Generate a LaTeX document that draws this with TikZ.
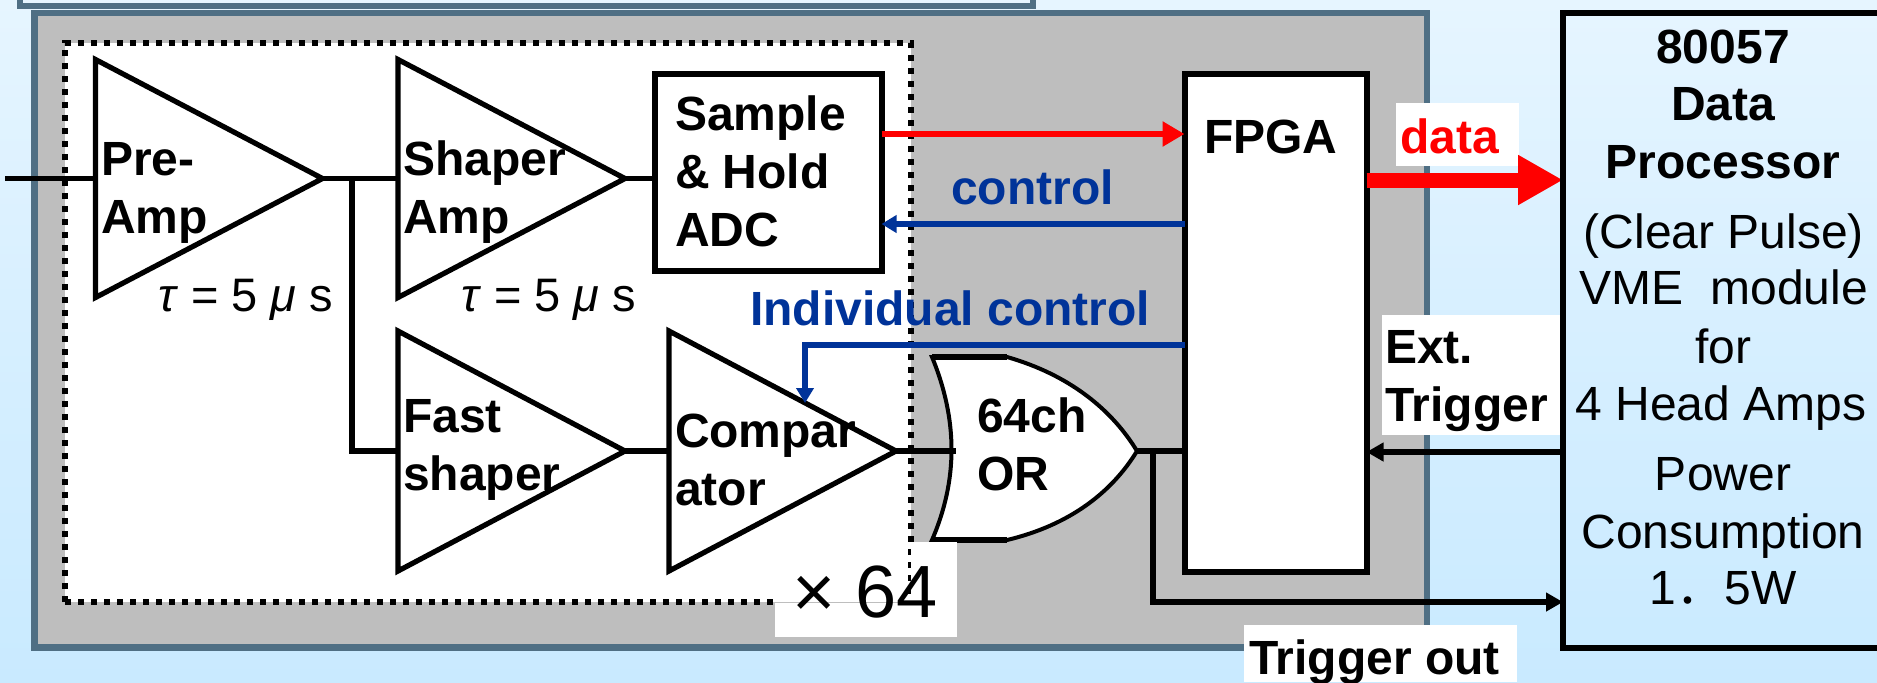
\documentclass[tikz,border=0pt]{standalone}
\usepackage{fontspec}
\setmainfont{Liberation Sans}
\newfontfamily\cjkf{Noto Sans CJK JP}
\usetikzlibrary{arrows.meta,shapes.geometric}
\definecolor{frameC}{HTML}{4F6F84}
\definecolor{panelC}{HTML}{BEBEBE}
\definecolor{ctlC}{HTML}{003399}
\definecolor{skyT}{HTML}{E6F5FF}
\definecolor{skyB}{HTML}{C9EAFF}
\tikzset{
  x=0.5pt,y=-0.5pt,
  amp/.style={shape=isosceles triangle,isosceles triangle stretches,draw=black,fill=white,line width=2.6pt,inner sep=0pt,outer sep=0pt,minimum width=119pt,minimum height=113.5pt,anchor=lower side,miter limit=10},
  blk/.style={draw=black,fill=white,line width=3pt,inner sep=0pt,outer sep=0pt,rectangle,anchor=north west},
  lbl/.style={font=\fontsize{24}{29}\selectfont\bfseries,inner sep=0pt,outer sep=0pt,align=left,anchor=base west},
  reg/.style={font=\fontsize{24}{29}\selectfont,inner sep=0pt,outer sep=0pt,anchor=base},
  wire/.style={draw=black,line width=2.6pt},
  sigwire/.style={wire,-{Triangle[length=8.5pt,width=9pt]}},
  cwire/.style={draw=ctlC,line width=2.6pt,-{Triangle[length=7.5pt,width=8.5pt]}},
  rwire/.style={draw=red,line width=3.3pt,-{Triangle[length=11pt,width=12pt]}},
  patch/.style={fill=white,inner sep=0pt,outer sep=0pt,rectangle,anchor=north west},
}
\begin{document}
\begin{tikzpicture}
\useasboundingbox (0,0) rectangle (1877,682);
\shade[top color=skyT,bottom color=skyB,middle color=skyB!55!skyT] (0,0) rectangle (1877,682);
% top panel remnant
\fill[skyT] (20,-2) rectangle (1033,6);
\draw[frameC,line width=3pt] (20,-10) rectangle (1033,6);
% grey board
\draw[frameC,fill=panelC,line width=3.2pt] (34.5,13) rectangle (1427,647.5);
% dotted group
\fill[white] (65,43) rectangle (911,602);
\draw[line width=3.2pt,dash pattern=on 3.2pt off 3.3pt] (65,602) -- (65,43) -- (911,43) -- (911,602);
\draw[line width=3.2pt,dash pattern=on 3.2pt off 3.3pt] (65,602) -- (775,602);
% blocks
\node[amp] (pre) at (95.5,178.5) {};
\node[amp] (shp) at (398,178.5) {};
\node[amp,minimum width=120pt] (fast) at (398,451) {};
\node[amp,minimum width=120pt] (cmp) at (669,451) {};
\node[blk,minimum width=113.5pt,minimum height=98.5pt] (sh) at (654.5,74) {};
\node[blk,minimum width=91pt,minimum height=249pt] (fpga) at (1184.5,74) {};
\node[blk,fill=none,minimum width=300pt,minimum height=317.5pt] (proc) at (1563,12.5) {};
% wires
\coordinate (in) at (5,178.5);
\draw[wire] (in) -- (pre.lower side);
\draw[wire] (pre.apex) -- (shp.lower side);
\coordinate (br) at (352,178.5);
\draw[wire] (br) -- (352,451) -- (398,451);
\draw[wire] (shp.apex) -- (sh.west |- shp.apex);
\draw[wire] (fast.apex) -- (cmp.lower side);
% OR gate
\draw[draw=black,fill=white,line width=2pt] (932,357) -- (1007,357)
  .. controls (1070,375) and (1112,410) .. (1137,451)
  .. controls (1112,492) and (1070,525) .. (1007,540)
  -- (932,540) .. controls (958,480) and (958,420) .. (932,357) -- cycle;
\draw[line width=2.6pt] (932,357) -- (1007,357) (932,540) -- (1007,540);
\coordinate (orin) at (956,451);
\coordinate (orout) at (1137,451);
\draw[wire] (cmp.apex) -- (orin);
\draw[wire] (orout) -- (fpga.west |- orout);
\draw[sigwire] (1153,451) -- (1153,602) -- (proc.west |- 0,602);
\draw[sigwire] (proc.west |- 0,452) -- (fpga.east |- 0,452);
\draw[rwire] (sh.east |- 0,134) -- (fpga.west |- 0,134);
\draw[cwire] (fpga.west |- 0,224) -- (sh.east |- 0,224);
\draw[cwire] (fpga.west |- 0,345) -- (805,345) -- (805,403);
% white patches
\node[patch,minimum width=61.5pt,minimum height=31.5pt] (pdata) at (1396,103) {};
\draw[draw=red,line width=7.5pt,-{Triangle[length=22.5pt,width=23.5pt]}] (fpga.east |- 0,180) -- (proc.west |- 0,180);
\node[patch,minimum width=89pt,minimum height=60pt] (pext) at (1382,315) {};
\node[patch,minimum width=136.5pt,minimum height=28.5pt] (ptrig) at (1244,625) {};
\fill[white] (775,603) rectangle (957,637);
\node[patch,minimum width=23pt,minimum height=47.5pt] (p64) at (911,542) {};
\draw[black,line width=3pt] (proc.north west) rectangle (proc.south east);
% labels
\node[lbl] (tpre) at (101,233) {Pre-\\Amp};
\node[lbl] (tshp) at (403,233) {Shaper\\Amp};
\node[lbl] (tsh) at (675,246) {Sample\\\& Hold\\ADC};
\node[lbl] (tfast) at (403,490) {Fast\\shaper};
\node[lbl] (tcmp) at (675,505) {Compar\\ator};
\node[lbl] (tor) at (977,490) {64ch\\OR};
\node[lbl] (tfpga) at (1204,153) {FPGA};
\node[lbl,text=red] (tdata) at (1400,153) {data};
\node[lbl,text=ctlC] (tctl) at (951,204) {control};
\node[lbl,text=ctlC] (tind) at (750,325) {Individual control};
\node[lbl] (text) at (1385,421) {Ext.\\Trigger};
\node[lbl] (ttrg) at (1249,674) {Trigger out};
\node[reg,anchor=base west,font=\fontsize{23.5}{28}\selectfont] (tau1) at (158,311) {\textit{τ} = 5 \textit{μ} s};
\node[reg,anchor=base west,font=\fontsize{23.5}{28}\selectfont] (tau2) at (461,311) {\textit{τ} = 5 \textit{μ} s};
\node[reg,anchor=base west,font=\fontsize{37}{40}\selectfont] (t64) at (792,617) {×\hspace{10pt}64};
\node[reg,font=\fontsize{24}{29}\selectfont\bfseries] (p1) at (1723,63) {80057};
\node[reg,font=\fontsize{24}{29}\selectfont\bfseries] (p2) at (1723,120) {Data};
\node[reg,font=\fontsize{24}{29}\selectfont\bfseries] (p3) at (1723,178) {Processor};
\node[reg] (p4) at (1724,248) {(Clear Pulse)};
\node[reg] (p5) at (1724,304) {VME\ \ module};
\node[reg] (p6) at (1723,363) {for};
\node[reg] (p7) at (1721,420) {4 Head Amps};
\node[reg] (p8) at (1723,490) {Power};
\node[reg] (p9) at (1723,548) {Consumption};
\node[reg] (p10) at (1723,604) {1{\cjkf ．}5W};
\end{tikzpicture}
\end{document}
